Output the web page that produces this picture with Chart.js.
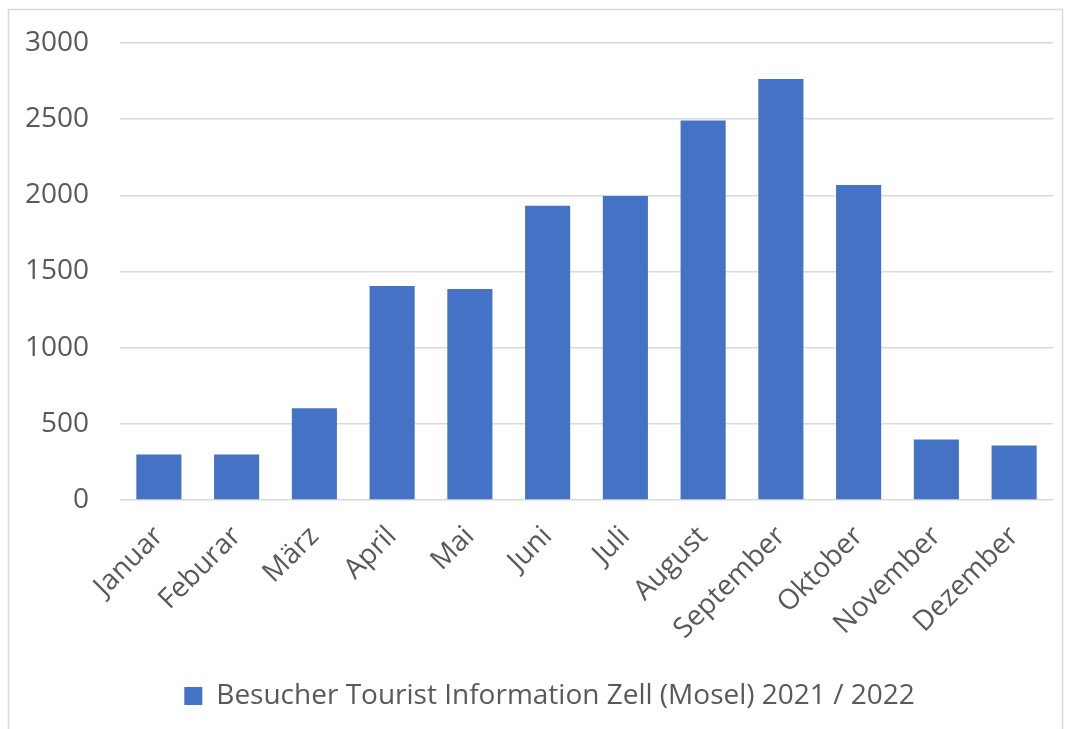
<!DOCTYPE html>
<html>
<head>
<meta charset="utf-8">
<script src="https://cdn.jsdelivr.net/npm/chart.js@4"></script>
<style>
  html, body { margin: 0; padding: 0; background: #fff; }
  #wrap { width: 1067px; height: 729px; }
</style>
</head>
<body>
<div id="wrap"><canvas id="myChart" width="1067" height="729"></canvas></div>
<script>
// Besucherzahlen pro Monat
const months = ['Januar', 'Feburar', 'März', 'April', 'Mai', 'Juni', 'Juli', 'August', 'September', 'Oktober', 'November', 'Dezember']
const visitors = [298, 298, 603, 1405, 1385, 1932, 1996, 2491, 2764, 2068, 397, 357]
const yTicks = [0, 500, 1000, 1500, 2000, 2500, 3000]
const seriesName = 'Besucher Tourist Information Zell (Mosel) 2021 / 2022'

const textColor = '#595959'
const fontFamily = "'Open Sans', sans-serif"
const fontSize = 28

// Rahmen um den ganzen Diagrammbereich wie in Excel
const frame = {
    id: 'frame',
    beforeDraw(chart) {
        const c = chart.ctx
        c.save()
        c.fillStyle = '#fff'
        c.fillRect(0, 0, chart.width, chart.height)
        c.strokeStyle = '#d9d9d9'
        c.lineWidth = 1.5
        c.strokeRect(8.5, 9.5, 1054, 740)
        c.restore()
    },
    // Legende etwas nach rechts, wie im Original
    afterLayout(chart) {
        chart.legend.left += 10
        chart.legend.right += 10
    }
}

const ctx = document.getElementById('myChart').getContext('2d')
const myChart = new Chart(ctx, {
    type: 'bar',
    data: {
        labels: months,
        datasets: [{
            label: seriesName,
            data: visitors,
            backgroundColor: '#4472c4',
            borderWidth: 0,
            categoryPercentage: 1.0,
            barPercentage: 0.58
        }]
    },
    options: {
        responsive: false,
        animation: false,
        layout: { padding: { left: 26, right: 14, top: 43, bottom: 9 } },
        plugins: {
            tooltip: { enabled: false },
            legend: {
                position: 'bottom',
                labels: {
                    color: textColor,
                    font: { family: fontFamily, size: fontSize },
                    boxWidth: 18,
                    boxHeight: 18,
                    padding: 10
                }
            }
        },
        scales: {
            x: {
                afterFit: (axis) => {
                    axis.height = 172
                    axis.paddingLeft = 0
                    axis.paddingRight = 0
                },
                grid: { display: false },
                border: { display: false },
                ticks: {
                    color: textColor,
                    font: { family: fontFamily, size: fontSize },
                    minRotation: 45,
                    maxRotation: 45,
                    padding: 12
                }
            },
            y: {
                min: 0,
                max: 3000,
                afterBuildTicks: (axis) => { axis.ticks = yTicks.map(v => ({ value: v })) },
                afterFit: (axis) => {
                    axis.width = 94
                    axis.paddingTop = 0
                    axis.paddingBottom = 0
                },
                grid: { color: '#d9d9d9', lineWidth: 1.5, drawTicks: false },
                border: { display: false },
                ticks: {
                    color: textColor,
                    font: { family: fontFamily, size: fontSize },
                    padding: 31,
                    callback: (v) => String(v)
                }
            }
        }
    },
    plugins: [frame]
})
</script>
</body>
</html>
